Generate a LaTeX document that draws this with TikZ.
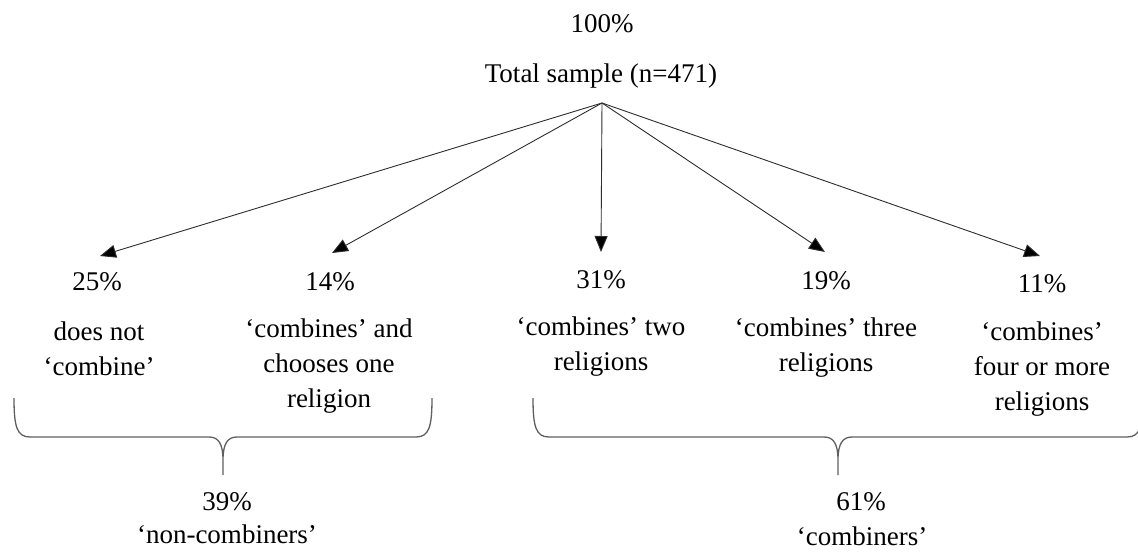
\documentclass[tikz,border=0pt]{standalone}
\usepackage{fontspec}
\setmainfont{Liberation Serif}
\usetikzlibrary{arrows.meta}
\definecolor{bracegray}{RGB}{95,95,95}
\definecolor{arrowgray}{RGB}{45,45,45}
\begin{document}
\begin{tikzpicture}[x=1pt,y=-1pt,
  lbl/.style={font=\fontsize{27}{35}\selectfont, inner sep=0pt, text=black},
  pct/.style={lbl, anchor=base},
  desc/.style={lbl, anchor=north, align=center},
  arr/.style={draw=arrowgray, line width=0.9pt, -{Triangle[length=16pt,width=13pt,fill=black]}},
  brace/.style={draw=bracegray, line width=1.3pt}]
\useasboundingbox (0,0) rectangle (1138,552);

% top
\node[pct] (toppct) at (602,32) {100\%};
\node[pct] (total) at (601,82) {Total sample (n=471)};
\coordinate (apex) at (602,103);

% percent nodes
\node[pct] (p1) at (97,290) {25\%};
\node[pct] (p2) at (330,290) {14\%};
\node[pct] (p3) at (601,288) {31\%};
\node[pct] (p4) at (826,289) {19\%};
\node[pct] (p5) at (1042,292) {11\%};

% arrow tips
\coordinate (t1) at (100,256);
\coordinate (t2) at (332,253);
\coordinate (t3) at (601,252);
\coordinate (t4) at (825,252);
\coordinate (t5) at (1040,256);

\draw[arr] (apex) -- (t1);
\draw[arr] (apex) -- (t2);
\draw[arr] (apex) -- (t3);
\draw[arr] (apex) -- (t4);
\draw[arr] (apex) -- (t5);

% descriptions (first baseline = y + 24.5)
\node[desc] (d1) at (99,315.5) {\strut does not\\‘combine’};
\node[desc] (d2) at (329,313) {\strut ‘combines’ and\\chooses one\\religion};
\node[desc] (d3) at (601,311) {\strut ‘combines’ two\\religions};
\node[desc] (d4) at (826,312) {\strut ‘combines’ three\\religions};
\node[desc] (d5) at (1042,316) {\strut ‘combines’\\four or more\\religions};

% braces
\begin{scope}
\clip (0,0) rectangle (1138,552);
\draw[brace] (14,398) .. controls (14,427) and (17,437) .. (30,437) -- (209,437)
  .. controls (218,437) and (223,443) .. (223,460) -- (223,475)
  (223,460) .. controls (223,443) and (228,437) .. (237,437) -- (416,437)
  .. controls (429,437) and (432,427) .. (432,398);
\draw[brace] (533,398) .. controls (533,427) and (536,437) .. (549,437) -- (824,437)
  .. controls (833,437) and (838,443) .. (838,460) -- (838,475)
  (838,460) .. controls (838,443) and (843,437) .. (852,437) -- (1127,437)
  .. controls (1140,437) and (1143,427) .. (1143,398);
\end{scope}

% group labels
\node[pct] (g1) at (227,510) {39\%};
\node[pct] (g1l) at (227,543) {‘non-combiners’};
\node[pct] (g2) at (861,510) {61\%};
\node[pct] (g2l) at (862,545) {‘combiners’};
\end{tikzpicture}
\end{document}
